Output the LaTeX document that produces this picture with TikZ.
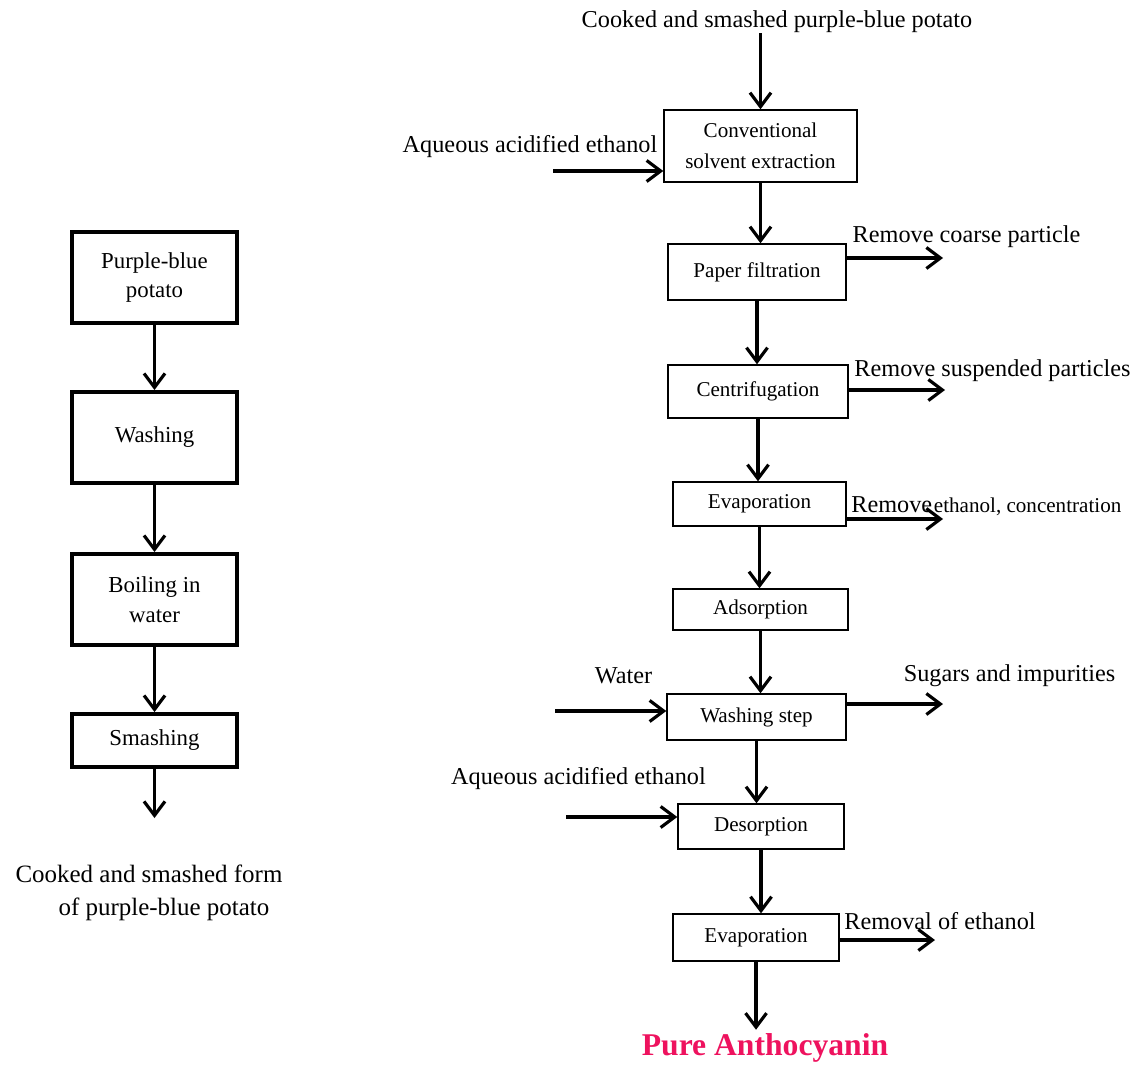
\documentclass[tikz,border=0pt]{standalone}
\usepackage{fontspec}
\setmainfont{Liberation Serif}
\usepackage{tikz}
\usetikzlibrary{positioning, arrows.meta}

\definecolor{anthopink}{RGB}{238,18,94}

\begin{document}
\begin{tikzpicture}[
    % Style for the thick-framed boxes of the pre-treatment column
    prebox/.style = {draw, line width=2.2pt, minimum width=3.3cm, minimum height=1.82cm,
                     align=center, font=\fontsize{13}{17}\selectfont},
    % Style for the thin-framed boxes of the extraction column
    procbox/.style = {draw, line width=0.8pt, align=center, inner sep=1pt,
                      font=\fontsize{12}{17.5}\selectfont},
    % Style for the side labels
    lbl/.style = {inner sep=0pt, font=\fontsize{13.8}{18}\selectfont},
    % Style for the arrows: thick with an open barb
    arrow/.style = {line width=1.8pt, -{Straight Barb[length=2.8mm, width=4.2mm]}}
]
    \useasboundingbox (0,0) rectangle (22.64,-21.3);

    % --- PRE-TREATMENT (Left Column) ---
    \node[prebox] (pb) at (3.09,-5.55) {Purple-blue\\potato};
    \node[prebox] (wash) at (3.09,-8.75) {Washing};
    \node[prebox] (boil) at (3.09,-11.99) {Boiling in\\water};
    \node[prebox, minimum height=1.06cm] (smash) at (3.09,-14.81) {Smashing};
    \coordinate (smashOut) at (3.09,-16.36);
    \node[lbl, align=center, font=\fontsize{14.2}{19}\selectfont] (cooked) at (2.98,-17.86)
        {Cooked and smashed form\\\hspace*{0.6cm}of purple-blue potato};

    \foreach \a/\b in {pb/wash, wash/boil, boil/smash} {
        \draw[arrow] (\a) -- (\b);
    }
    \draw[arrow] (smash) -- (smashOut);

    % --- EXTRACTION AND PURIFICATION (Right Column) ---
    \node[lbl] (start) at (15.54,-0.44) {Cooked and smashed purple-blue potato};
    \node[procbox, minimum width=3.86cm, minimum height=1.44cm] (cse) at (15.21,-2.92)
        {Conventional\\solvent extraction};
    \node[procbox, minimum width=3.56cm, minimum height=1.12cm] (pf) at (15.14,-5.44) {Paper filtration};
    \node[procbox, minimum width=3.6cm, minimum height=1.06cm] (cf) at (15.16,-7.83) {Centrifugation};
    \node[procbox, minimum width=3.46cm, minimum height=0.88cm] (ev1) at (15.19,-10.08) {Evaporation};
    \node[procbox, minimum width=3.5cm, minimum height=0.82cm] (ads) at (15.21,-12.19) {Adsorption};
    \node[procbox, minimum width=3.58cm, minimum height=0.92cm] (ws) at (15.13,-14.34) {Washing step};
    \node[procbox, minimum width=3.32cm, minimum height=0.9cm] (des) at (15.22,-16.53) {Desorption};
    \node[procbox, minimum width=3.32cm, minimum height=0.94cm] (ev2) at (15.12,-18.75) {Evaporation};
    \node[lbl, text=anthopink, font=\bfseries\fontsize{18}{20}\selectfont] (pure) at (15.3,-20.96)
        {Pure Anthocyanin};

    % --- INPUT STREAMS ---
    \node[lbl] (ethIn1) at (10.6,-2.94) {Aqueous acidified ethanol};
    \node[lbl] (water) at (12.47,-13.52) {Water};
    \node[lbl] (ethIn2) at (11.57,-15.58) {Aqueous acidified ethanol};
    \coordinate (cseIn) at (11.06,-3.42);
    \coordinate (wsIn) at (11.1,-14.22);
    \coordinate (desIn) at (11.32,-16.34);

    % --- OUTPUT STREAMS ---
    \node[lbl] (coarse) at (19.33,-4.74) {Remove coarse particle};
    \node[lbl] (susp) at (19.85,-7.42) {Remove suspended particles};
    \node[lbl, anchor=west] (conc) at (17.02,-10.12)
        {Remove\kern1pt{\fontsize{12}{14}\selectfont ethanol, concentration}};
    \node[lbl] (sugars) at (20.19,-13.52) {Sugars and impurities};
    \node[lbl] (remEth) at (18.8,-18.42) {Removal of ethanol};
    \coordinate (pfOut) at (18.86,-5.16);
    \coordinate (cfOut) at (18.9,-7.8);
    \coordinate (ev1Out) at (18.86,-10.38);
    \coordinate (wsOut) at (18.86,-14.08);
    \coordinate (ev2Out) at (18.7,-18.8);

    % --- MAIN FLOW ---
    \draw[arrow] (start.south -| cse.north) -- (cse.north);
    \foreach \a/\b in {cse/pf, pf/cf, cf/ev1, ev1/ads, ads/ws, ws/des, des/ev2} {
        \draw[arrow] (\a.south) -- (\a.south |- \b.north);
    }
    \draw[arrow, shorten >=2pt] (ev2.south) -- (ev2.south |- pure.north);

    % --- SIDE ARROWS ---
    \foreach \c/\n in {cseIn/cse, wsIn/ws, desIn/des} {
        \draw[arrow] (\c) -- (\c -| \n.west);
    }
    \foreach \n/\c in {pf/pfOut, cf/cfOut, ev1/ev1Out, ws/wsOut, ev2/ev2Out} {
        \draw[arrow] (\c -| \n.east) -- (\c);
    }

\end{tikzpicture}
\end{document}
